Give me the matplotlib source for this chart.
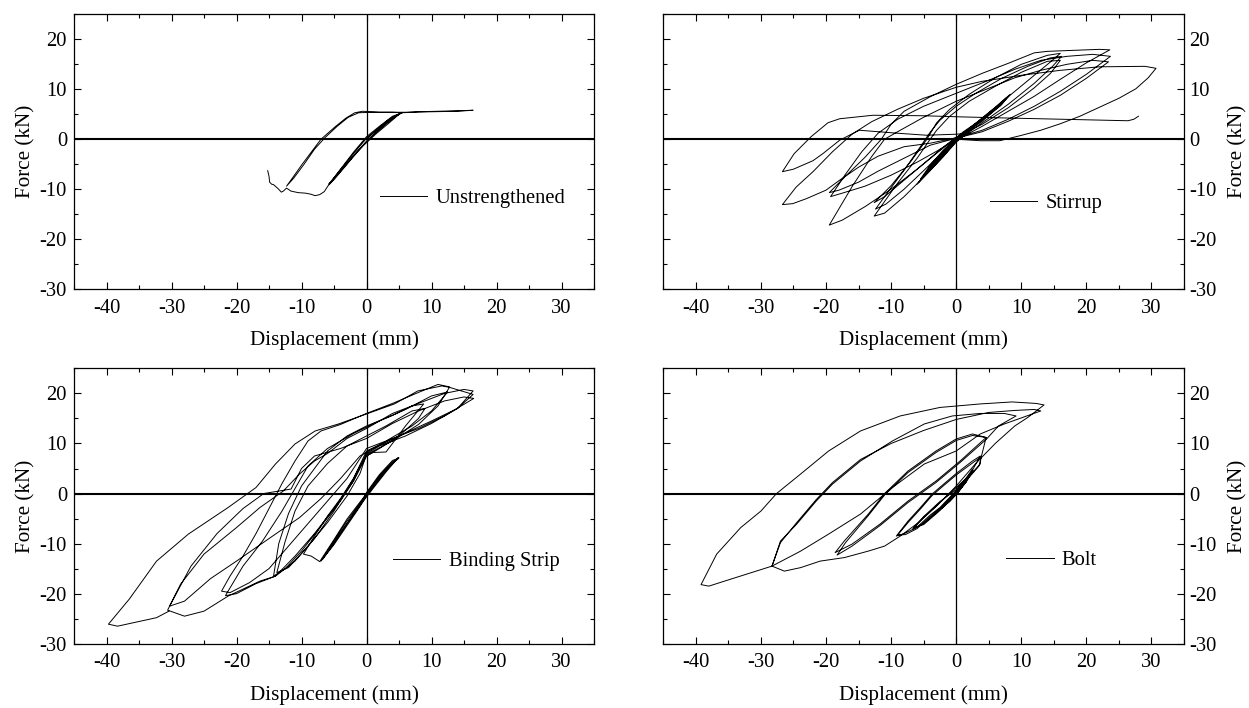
import matplotlib.pyplot as plt
import numpy as np
from matplotlib.ticker import MultipleLocator

plt.rcParams['font.family'] = ['Liberation Serif', 'DejaVu Serif']
plt.rcParams['axes.unicode_minus'] = False

###================ Data (mm, kN) ================================================###

unstrengthened = [
    (0, 0), (1.5, 1.8), (3.3, 3.8), (5.0, 5.0), (3.5, 3.6), (1.5, 1.4), (0, -0.4), (-2, -3.3), (-4, -6.3), (-5.8, -9.0),
    (-4.2, -6.4), (-2, -2.9), (0, 0.2), (1.8, 2.1), (3.5, 4.0), (5.2, 5.2), (3.6, 3.4), (1.4, 1.0), (-0.5, -1.3),
    (-2.5, -4.2), (-4.5, -7.2), (-5.6, -8.8), (-4.0, -6.0), (-2, -2.6), (0, 0.5), (2.0, 2.6), (4.0, 4.6), (5.5, 5.3),
    (8, 5.5), (11, 5.6), (14, 5.7), (16.4, 5.8), (14, 5.6), (10, 5.5), (6, 5.4), (2, 5.4), (-0.6, 5.6), (-1.8, 5.3),
    (-3.2, 4.2), (-4.9, 2.4), (-7, 0), (-8.5, -2.6), (-10, -5.2), (-11.3, -7.6), (-12.3, -9.4), (-11.2, -7.8),
    (-9.6, -5.0), (-8, -2.0), (-6.4, 0.3), (-4.5, 2.6), (-2.8, 4.4), (-1.2, 5.3), (1, 5.4), (4, 5.4), (5.5, 5.3),
    (4.2, 4.4), (2.5, 2.6), (0.5, 0.2), (-1.5, -2.6), (-3.5, -5.8), (-5.0, -8.1), (-5.9, -9.3), (-6.5, -10.5),
    (-7.2, -11.1), (-7.9, -11.3), (-8.6, -11.0), (-9.4, -10.8), (-10.5, -10.7), (-11.6, -10.4), (-12.3, -9.8),
    (-12.8, -10.4), (-13.1, -10.6), (-13.6, -9.9), (-14.3, -9.1), (-14.6, -9.0), (-14.9, -8.6), (-15.0, -7.4),
    (-15.2, -6.3),
]

stirrup = [
    # small cycles around +-8 mm
    (0, 0), (3, 3.2), (6, 6.4), (8.3, 9.0), (7, 7.0), (4, 3.6), (1, 0.9), (-2, -2.8), (-4, -5.7), (-6, -9.0),
    (-4, -6.3), (-2, -3.5), (0, -0.6), (3, 2.8), (6, 6.0), (8.1, 8.7), (6.8, 6.7), (4, 3.9), (1, 1.2), (-2, -2.5),
    (-4, -5.5), (-5.8, -8.7), (-4, -6.0), (-2, -3.2), (0, -0.3), (3, 3.0), (6, 6.2), (7.8, 8.4), (6.5, 6.6),
    (4, 4.1), (1, 1.4), (-2, -2.2), (-4, -5.2), (-5.5, -8.0), (-4, -5.8), (-2, -3.0), (0, 0),
    # +16 / -12.6 mm
    (4, 4.2), (8, 8.5), (12, 12.8), (14.5, 15.5), (16, 17.2),
    (14, 16.8), (10, 15.0), (6, 12.3), (2, 9.0), (-1, 6.0), (-3, 3.3), (-4.5, 0), (-7, -4.5), (-10, -9.3), (-12.6, -12.7),
    (-11, -11.5), (-8, -8.2), (-5, -4.9), (-2, -1.6), (0, 0.4), (4, 3.0), (8, 6.3), (12, 10.3), (14.5, 13.2), (16, 15.8),
    (14, 15.6), (10, 13.4), (6, 10.6), (2, 7.6), (-1, 4.6), (-3, 1.8), (-4, 0), (-6, -3.8), (-9, -8.8), (-12.6, -15.4),
    (-11, -14.8), (-8, -11.5), (-5, -7.6), (-2, -3.5), (0, -0.4), (4, 3.3), (8, 7.0), (12, 11.2), (14.8, 14.6),
    (16.2, 16.6),
    (14.5, 16.3), (11, 14.6), (7, 12.2), (3, 9.2), (0, 6.6), (-2.5, 3.8), (-4, 1.4), (-5.5, -1.5), (-8, -6.2),
    (-10.5, -10.6), (-12.4, -14.0),
    (-10.8, -13.0), (-8, -10.0), (-5, -6.3), (-2, -2.5), (0, -0.2), (4, 2.6), (8, 5.6), (12, 8.6), (16, 12.0),
    (20, 15.3), (23.6, 17.9),
    # +23.6 / -19.5 mm
    (22, 18.0), (18, 17.8), (14, 17.6), (12, 17.3), (8, 15.2), (4, 13.2), (0, 11.0), (-4, 8.5), (-8, 5.6), (-10, 3.0),
    (-11.5, 0), (-14, -3.6), (-17, -7.4), (-19.5, -10.7),
    (-18, -10.2), (-15, -8.6), (-12, -6.4), (-8, -3.8), (-4, -1.2), (0, 0.2), (4, 1.5), (8, 3.6), (12, 6.0), (16, 8.8),
    (20, 12.2), (23.4, 15.5),
    (21, 15.8), (17, 15.0), (13, 13.8), (9, 12.3), (5, 10.2), (0, 7.6), (-5, 4.4), (-9, 1.5), (-11, 0), (-13, -3.5),
    (-16, -9.5), (-19.5, -17.2),
    (-17.5, -16.2), (-14, -13.5), (-10, -10.0), (-6, -6.0), (-3, -2.8), (0, 0.3), (4, 1.8), (8, 4.0), (12, 6.6),
    (16, 9.6), (20, 13.0), (23.7, 16.6),
    (21, 17.0), (17, 16.6), (13, 15.8), (9, 14.0), (5, 11.8), (0, 9.2), (-5, 6.6), (-9, 4.0), (-12, 1.2),
    (-14.5, -2.5), (-17, -7.0), (-19.3, -11.5),
    (-17.5, -10.8), (-14, -9.4), (-10, -7.2), (-6, -4.6), (-3, -2.4), (0, 0),
    # +30.7 / -26.7 mm
    (3.7, -0.3), (6.7, -0.3), (9.8, 0.7), (13, 1.8), (16, 3.1), (19, 4.6), (22, 6.4), (25, 8.2), (27.6, 10.1),
    (29.5, 12.3), (30.7, 14.2),
    (29, 14.6), (22, 14.5), (16, 13.8), (10, 12.8), (4, 11.6), (0, 10.4), (-5, 8.2), (-9, 6.0), (-13, 3.5), (-16, 1.0),
    (-19, -2.5), (-22, -6.5), (-24.6, -9.6), (-26.7, -13.1),
    (-25.1, -12.9), (-23, -11.9), (-20, -10.2), (-17.9, -8.2), (-15, -5.6), (-12, -3.4), (-8, -1.5), (-4, -0.8),
    (0, 0.3), (2, 1.2), (0, 1.0), (-4.6, 0.8), (-9, 1.2), (-14.9, 1.8), (-17.9, -0.2), (-20.5, -2.9), (-22, -4.3),
    (-25, -6.0), (-26.7, -6.5),
    (-24.9, -2.9), (-22.3, 0.5), (-19.7, 3.3), (-17.9, 4.1), (-12.8, 4.8), (-5, 4.7), (0, 4.5), (6, 4.3), (12.8, 4.1),
    (20, 3.9), (26.4, 3.7), (27.3, 4.0), (28, 4.6),
]

binding_strip = [
    (0, 0), (2, 3.5), (4, 6.3), (4.8, 7.0), (3, 4.6), (1, 1.3), (-1, -2.0), (-3, -5.5), (-5, -9.5), (-7, -13.5),
    (-5, -10.2), (-3, -6.4), (-1, -2.6), (0, -0.4), (2, 3.2), (4, 6.0), (4.9, 7.2), (3, 4.3), (1, 1.0), (-1, -2.4),
    (-3, -6.0), (-5, -10.0), (-6.8, -13.2), (-5, -9.8), (-3, -6.0), (-1, -2.2), (0, 0.2), (2, 3.8), (4, 6.6), (5, 7.1),
    (3, 4.9), (1, 1.6), (-1, -1.7), (-3, -5.1), (-5, -9.2), (-7.2, -13.6), (-8.5, -12.5), (-9.7, -12.1), (-8, -8.5),
    (-6, -4.5), (-4, -1.0), (-2, 3.0), (-1, 5.5), (0, 7.5), (1, 8.2), (3, 8.3), (4, 10), (6, 13.5), (8.8, 17.9),
    (7, 17.5), (4, 15.6), (0, 13.5), (-3, 11.5), (-6, 8.5), (-8, 5.0), (-10, 1.5), (-12, -4.0), (-13.5, -10),
    (-14.3, -16.5),
    (-12.5, -15.0), (-10, -11.5), (-7, -6.5), (-4, -1.5), (-2, 2.5), (0, 7.5), (2, 9.0), (5, 11.5), (8, 15.0), (9, 17.0),
    (7, 16.5), (3, 13.5), (0, 11.5), (-3, 9.5), (-6, 6.0), (-9, 1.5), (-11, -3.5), (-12.5, -9.5), (-13.8, -15.8),
    (-12, -14.8), (-9, -10.5), (-6, -5.8), (-3, -0.5), (-1, 4.0), (0, 7.8), (4, 10.5), (8, 13.8), (11, 17.5),
    (12.8, 21.3),
    (11, 21.8), (8, 20.2), (4, 18.0), (0, 16.0), (-4, 13.8), (-7, 12.5), (-9, 10.5), (-11, 6.5), (-13, 2.0),
    (-15, -3.0), (-17, -8.0), (-19, -12.5), (-21, -16.5), (-22.3, -19.5),
    (-21, -19.8), (-18, -17.8), (-15, -15.0), (-12, -10.5), (-9, -6.0), (-6, -1.5), (-3, 3.0), (-1, 7.0), (0, 9.0),
    (3, 10.5), (7, 13.5), (10, 16.5), (12.5, 20.3),
    (10, 19.5), (6, 16.8), (2, 14.5), (-2, 12.0), (-6, 9.0), (-9, 5.5), (-11, 1.0), (-13, -3.5), (-16, -9.5),
    (-19, -14.5), (-21.7, -20.4),
    (-20, -20.0), (-17, -18.0), (-14, -16.5), (-11, -12.5), (-8, -8.0), (-5, -3.0), (-2, 2.5), (0, 8.0), (2, 9.5),
    (6, 11.5), (10, 14.0), (14, 17.0), (16.4, 20.5),
    (15, 20.8), (12, 20.0), (8, 18.0), (4, 16.0), (0, 13.0), (-3, 11.0), (-6, 8.0), (-8, 6.5), (-10.3, 3.9),
    (-12.8, 0.5), (-16.4, -2.8), (-20, -6.8), (-25, -12.1), (-28.6, -18.1), (-30.6, -23.3),
    (-28, -24.5), (-25, -23.5), (-21.3, -20.5), (-16.4, -17.5), (-14, -16.5), (-11, -13.5), (-8, -9.0), (-5, -3.5),
    (-2, 3.0), (0, 8.5), (4, 11.0), (8, 13.0), (12, 15.5), (16.5, 19.0),
    (15, 19.3), (12, 18.5), (8, 16.5), (4, 14.0), (0, 11.0), (-4, 9.0), (-8, 7.5), (-10, 5), (-11.6, 0.9),
    (-15.8, 0), (-19, -3.0), (-23, -8.0), (-27, -14.5), (-30.3, -22.5),
    (-28, -21.5), (-24, -17.0), (-20, -13.5), (-14, -8.1), (-10.3, -4.8), (-7, -1), (-4, 3.0), (-1, 7.5), (1, 9.0),
    (5, 11.5), (10, 14.5), (14, 17.0), (16.4, 19.8),
    (12.8, 21.2), (11.6, 21.5), (7.9, 20.5), (4.3, 17.9), (0, 15.9), (-4.3, 13.9), (-7.9, 12.5), (-11, 9.9),
    (-14, 5.9), (-17, 1.2), (-21.3, -2.8), (-27.4, -8.1), (-32.3, -13.5), (-36.5, -21.1), (-39.7, -26.1),
    (-38.3, -26.5), (-32.3, -24.8), (-30.4, -23.5),
]

bolt = [
    (0, 0), (0.8, 1.4), (1.5, 2.3), (0.5, 0.6), (-1, -1.3), (-2, -2.6), (-1, -1.6), (0, -0.2), (0.8, 1.2), (1.4, 2.2),
    (0.4, 0.4), (-1, -1.5), (-2.2, -2.9), (-1, -1.4), (0, 0.2), (1.5, 2.6), (2.5, 4.9), (1.5, 3.0), (0, 1.2),
    (-2.5, -1.8), (-5, -4.8), (-6.7, -7.1), (-5, -6.0), (-2.5, -3.2), (0, 0.0), (1.5, 2.2), (2.6, 4.6),
    (1.2, 2.6), (0, 0.8), (-2.5, -1.6), (-5, -4.6), (-6.5, -6.8), (-5, -6.2), (-2.5, -3.4), (0, -0.2), (2, 3.5),
    (3.7, 7.5),
    (2.5, 6.5), (0, 4.0), (-2, 1.8), (-3.7, -0.1), (-5.5, -2.8), (-7.4, -5.5), (-9.2, -8.5), (-8, -8.0), (-6.1, -6.8),
    (-4, -4.3), (-2.5, -2.8), (0, 0.6), (1.5, 2.8), (3.7, 5.9), (3.8, 7.3),
    (2.6, 6.2), (0, 3.7), (-2, 1.5), (-3.7, -0.4), (-5.5, -3.1), (-7.4, -5.8), (-9.0, -8.3), (-7.8, -8.2), (-6, -7.0),
    (-4, -4.6), (-2.5, -3.0), (0, 0.3), (1.5, 2.5), (3.5, 5.5), (4.6, 11.2),
    (2.5, 11.9), (0, 10.9), (-3.1, 8.5), (-7.4, 4.5), (-11, 0), (-13.5, -4.1), (-17.2, -9.5), (-18.6, -11.8),
    (-16, -10.1), (-11.7, -6.1), (-7.4, -1.5), (-3.1, 2.5), (0.6, 6.5), (4.6, 11.2),
    (2.5, 11.6), (0, 10.6), (-3.1, 8.2), (-7.4, 4.2), (-11, -0.3), (-13.5, -4.4), (-17, -9.8), (-18.3, -12.3),
    (-16, -10.5), (-11.7, -6.4), (-7.4, -1.8), (-3.1, 2.2), (0.6, 6.2), (4.6, 10.8), (6.5, 13.5), (9.2, 15.5),
    (7.4, 16.0), (3.7, 16.0), (-0.6, 15.5), (-4.9, 13.9), (-9.8, 10.5), (-14.7, 6.5), (-19, 1.9), (-21.5, -1.5),
    (-24.5, -6.1), (-27, -9.5), (-28.3, -14.5),
    (-23.9, -11.5), (-19.6, -8.1), (-14.7, -4.1), (-9.8, 1.2), (-4.9, 5.9), (0, 8.5), (3.7, 11.9), (7.4, 13.9),
    (13, 16.5),
    (12, 16.8), (9, 16.6), (5, 16.2), (0, 14.8), (-5, 12.6), (-10, 10.0), (-14.7, 6.8), (-19, 2.2), (-21.5, -1.2),
    (-24.5, -5.8), (-27, -9.8), (-28.3, -14.5),
    (-26.4, -15.5), (-23.9, -14.8), (-20.9, -13.5), (-17.2, -12.8), (-13.5, -11.5), (-11, -10.5), (-8.6, -8.5),
    (-6, -6), (-3, -2.5), (0, 1.5), (3, 6), (6, 10), (9, 13.5), (11, 15.2), (13.5, 17.7),
    (12.3, 18.0), (8.6, 18.3), (3.7, 17.9), (-2.5, 17.2), (-8.6, 15.5), (-14.7, 12.5), (-19.6, 8.5), (-23.9, 3.9),
    (-27.6, 0), (-30, -3.5), (-33.1, -6.8), (-36.8, -12.1), (-39.2, -18.2), (-38, -18.5), (-35.6, -17.5),
    (-30.7, -15.5), (-28.3, -14.5),
]

labels = ['Unstrengthened', 'Stirrup', 'Binding Strip', 'Bolt']
curves = [unstrengthened, stirrup, binding_strip, bolt]
legend_xy = [(2.1, -11.8), (5.2, -12.8), (4.1, -13.5), (7.7, -13.3)]

x_lim = (-45, 35)
y_lim = (-30, 25)

###================ Figure =================###

FS = 14.8
W, H = 1249, 708
fig = plt.figure(figsize=(W / 100, H / 100), dpi=100)

# axes boxes in pixels: left, top, width, height
boxes = [(74, 14.4, 520, 274.6), (663.3, 14.4, 520.7, 274.6),
         (74, 368.4, 520, 275.3), (663.3, 368.4, 520.7, 275.3)]
sides = ['left', 'right', 'left', 'right']

for curve, label, (lx, ly), (bx, by, bw, bh), side in zip(curves, labels, legend_xy, boxes, sides):
    ax = fig.add_axes([bx / W, 1 - (by + bh) / H, bw / W, bh / H])
    pts = np.array(curve)
    ax.plot(pts[:, 0], pts[:, 1], color='black', lw=0.7, label=label)
    ax.axhline(0, color='black', lw=1.5, zorder=1)
    ax.axvline(0, color='black', lw=0.9, zorder=1)

    ax.set_xlim(*x_lim)
    ax.set_ylim(*y_lim)
    ax.xaxis.set_major_locator(MultipleLocator(10))
    ax.xaxis.set_minor_locator(MultipleLocator(5))
    ax.yaxis.set_major_locator(MultipleLocator(10))
    ax.yaxis.set_minor_locator(MultipleLocator(5))
    ax.tick_params(which='both', direction='in', top=True, right=True, left=True,
                   labelsize=FS, width=0.8)
    ax.tick_params(which='major', length=5)
    ax.tick_params(which='minor', length=3)
    ax.tick_params(axis='x', pad=7)
    for s in ax.spines.values():
        s.set_linewidth(0.9)

    ax.set_xlabel('Displacement (mm)', fontsize=15.2, labelpad=9)
    if side == 'right':
        ax.tick_params(axis='y', labelleft=False, labelright=True, pad=4)
        ax.yaxis.set_label_position('right')
        ax.set_ylabel('Force (kN)', fontsize=15.2, labelpad=8, rotation=90)
    else:
        ax.tick_params(axis='y', pad=5)
        ax.set_ylabel('Force (kN)', fontsize=15.2, labelpad=3)

    ax.legend(loc='center left',
              bbox_to_anchor=((lx - x_lim[0]) / (x_lim[1] - x_lim[0]),
                              (ly - y_lim[0]) / (y_lim[1] - y_lim[0])),
              frameon=False, borderpad=0, borderaxespad=0,
              handlelength=2.3, handletextpad=0.4, fontsize=FS)

fig.savefig('out.png', dpi=100)
